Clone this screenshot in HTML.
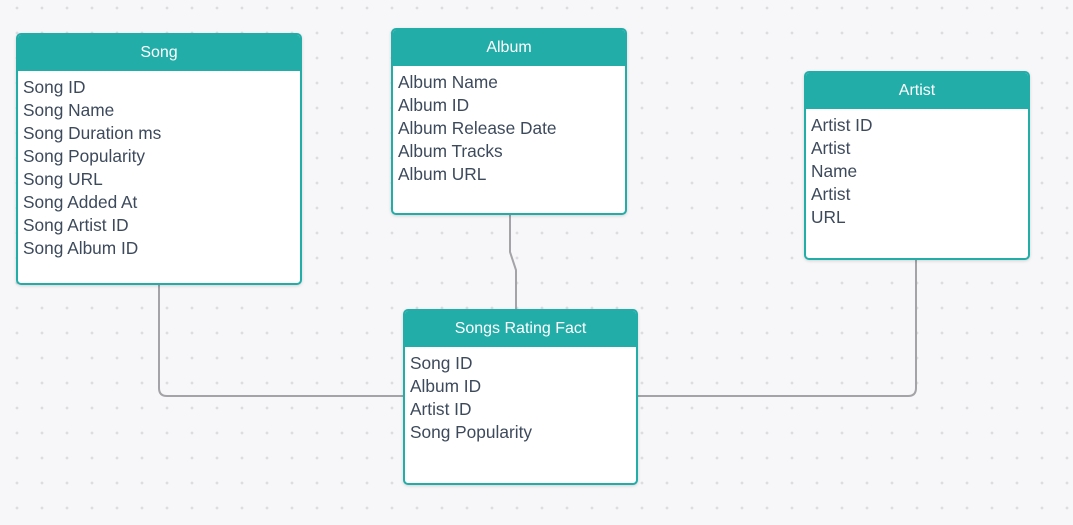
<!DOCTYPE html>
<html><head><style>
body{margin:0;width:1073px;height:525px;overflow:hidden;background-color:#f7f7f9;
background-image:radial-gradient(circle,#dcdce2 1.2px,transparent 1.6px);background-size:25px 25px;background-position:4.5px -4.5px;
font-family:"Liberation Sans",sans-serif;position:relative}
.b{position:absolute;background:#fff;border:2px solid #22ada9;border-radius:5px;box-sizing:border-box;overflow:hidden;box-shadow:0 1px 3px rgba(0,0,0,0.15)}
.h{background:#22ada9;color:#fff;text-align:center;font-size:16px;line-height:36px;height:36px}
.r{padding:5px 0 0 5px;color:#3d4a5c;font-size:17.3px;line-height:23px}
svg{position:absolute;left:0;top:0}
</style></head><body>
<svg width="1073" height="525"><g fill="none" stroke="#a3a3a8" stroke-width="2">
<path d="M159 284 V388 Q159 396 167 396 H404"/>
<path d="M510 214 V252 L516 270 V310"/>
<path d="M628 396 H908 Q916 396 916 388 V258"/>
</g></svg>
<div class="b" style="left:16px;top:33px;width:286px;height:252px"><div class="h">Song</div><div class="r">Song ID<br>Song Name<br>Song Duration ms<br>Song Popularity<br>Song URL<br>Song Added At<br>Song Artist ID<br>Song Album ID</div></div>
<div class="b" style="left:391px;top:28px;width:236px;height:187px"><div class="h">Album</div><div class="r">Album Name<br>Album ID<br>Album Release Date<br>Album Tracks<br>Album URL</div></div>
<div class="b" style="left:804px;top:71px;width:226px;height:189px"><div class="h">Artist</div><div class="r">Artist ID<br>Artist<br>Name<br>Artist<br>URL</div></div>
<div class="b" style="left:403px;top:309px;width:235px;height:176px"><div class="h">Songs Rating Fact</div><div class="r">Song ID<br>Album ID<br>Artist ID<br>Song Popularity</div></div>
</body></html>
